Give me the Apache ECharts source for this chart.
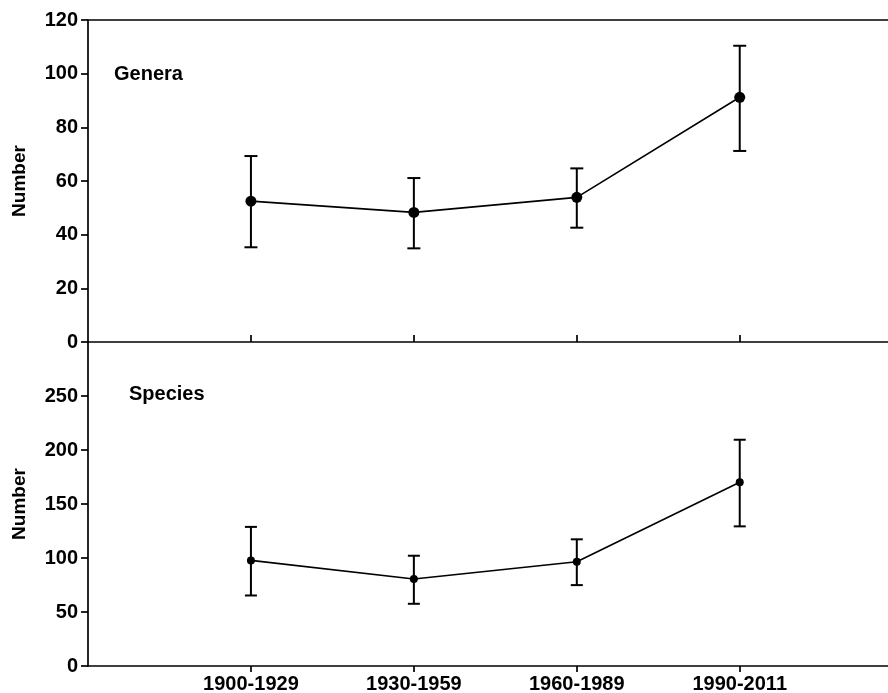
<!DOCTYPE html>
<html>
<head>
<meta charset="utf-8">
<script src="https://cdn.jsdelivr.net/npm/echarts@6/dist/echarts.min.js"></script>
<style>
html,body{margin:0;padding:0;background:#fff;}
#chart{width:888px;height:693px;}
</style>
</head>
<body>
<div id="chart"></div>
<script>
// Data
var periods = ['1900-1929', '1930-1959', '1960-1989', '1990-2011'];
var generaMean = [52.5, 48.3, 53.9, 91.2];
var generaUpper = [69.3, 61.1, 64.7, 110.4];
var generaLower = [35.3, 34.9, 42.6, 71.2];
var speciesMean = [97.8, 80.5, 96.6, 170.2];
var speciesUpper = [128.8, 102.1, 117.3, 209.5];
var speciesLower = [65.3, 57.6, 74.9, 129.3];
var generaTicks = [0, 20, 40, 60, 80, 100, 120];
var speciesTicks = [0, 50, 100, 150, 200, 250];
var periodPos = [1, 2, 3, 4];

var FONT = 'Liberation Sans, Arial, sans-serif';
var chart = echarts.init(document.getElementById('chart'), null, {renderer: 'canvas'});

function pts(mean) { return mean.map(function (v, i) { return [periodPos[i], v]; }); }
function errData(up, lo) { return up.map(function (u, i) { return [periodPos[i], u, lo[i]]; }); }
function errRender(cap) {
  return function (params, api) {
    var x = api.value(0);
    var hi = api.coord([x, api.value(1)]);
    var lo = api.coord([x, api.value(2)]);
    var st = {stroke: '#000', lineWidth: 2};
    return {
      type: 'group',
      children: [
        {type: 'line', shape: {x1: hi[0], y1: hi[1], x2: lo[0], y2: lo[1]}, style: st},
        {type: 'line', shape: {x1: hi[0] - cap, y1: hi[1], x2: hi[0] + cap, y2: hi[1]}, style: st},
        {type: 'line', shape: {x1: lo[0] - cap, y1: lo[1], x2: lo[0] + cap, y2: lo[1]}, style: st}
      ]
    };
  };
}

var axisLabelStyle = {color: '#000', fontFamily: FONT, fontWeight: 'bold', fontSize: 20};
var yNameStyle = {color: '#000', fontFamily: FONT, fontWeight: 'bold', fontSize: 19};
var lineSt = {color: '#000', width: 1.7};

var option = {
  animation: false,
  backgroundColor: '#fff',
  grid: [
    {left: 88, right: 0, top: 20, height: 322, outerBoundsMode: 'none', containLabel: false},
    {left: 88, right: 0, top: 342, height: 324, outerBoundsMode: 'none', containLabel: false}
  ],
  xAxis: [
    {gridIndex: 0, type: 'value', min: 0, max: 4.91, position: 'bottom',
      axisLine: {lineStyle: lineSt},
      axisTick: {inside: true, length: 7, customValues: periodPos, lineStyle: lineSt},
      axisLabel: {show: false}, splitLine: {show: false}},
    {gridIndex: 0, type: 'value', min: 0, max: 4.91, position: 'top',
      axisLine: {show: true, onZero: false, lineStyle: lineSt},
      axisTick: {show: false}, axisLabel: {show: false}, splitLine: {show: false}},
    {gridIndex: 1, type: 'value', min: 0, max: 4.91, position: 'bottom',
      axisLine: {lineStyle: lineSt},
      axisTick: {length: 6, customValues: periodPos, lineStyle: lineSt},
      axisLabel: Object.assign({margin: 8, customValues: periodPos, formatter: function (v) {
        var i = periodPos.indexOf(v); return i >= 0 ? periods[i] : '';
      }}, axisLabelStyle),
      splitLine: {show: false}}
  ],
  yAxis: [
    {gridIndex: 0, type: 'value', min: generaTicks[0], max: generaTicks[generaTicks.length - 1], interval: 20,
      name: 'Number', nameLocation: 'middle', nameGap: 59, nameTextStyle: yNameStyle,
      axisLine: {show: true, lineStyle: lineSt},
      axisTick: {show: true, length: 7, lineStyle: lineSt},
      axisLabel: Object.assign({margin: 10}, axisLabelStyle),
      splitLine: {show: false}},
    {gridIndex: 1, type: 'value', min: speciesTicks[0], max: 300, interval: 50,
      name: 'Number', nameLocation: 'middle', nameGap: 59, nameTextStyle: yNameStyle,
      axisLine: {show: true, lineStyle: lineSt},
      axisTick: {show: true, length: 7, customValues: speciesTicks, lineStyle: lineSt},
      axisLabel: Object.assign({margin: 10, customValues: speciesTicks}, axisLabelStyle),
      splitLine: {show: false}}
  ],
  graphic: [
    {type: 'text', left: 114, top: 64, style: {text: 'Genera', fill: '#000', font: 'bold 20px ' + FONT}},
    {type: 'text', left: 129, top: 384, style: {text: 'Species', fill: '#000', font: 'bold 20px ' + FONT}}
  ],
  series: [
    {type: 'custom', xAxisIndex: 0, yAxisIndex: 0, data: errData(generaUpper, generaLower),
      renderItem: errRender(6.5), encode: {x: 0, y: [1, 2]}, z: 2},
    {type: 'line', xAxisIndex: 0, yAxisIndex: 0, data: pts(generaMean),
      symbol: 'circle', symbolSize: 11, itemStyle: {color: '#000'},
      lineStyle: {color: '#000', width: 1.6}, z: 3},
    {type: 'custom', xAxisIndex: 2, yAxisIndex: 1, data: errData(speciesUpper, speciesLower),
      renderItem: errRender(6), encode: {x: 0, y: [1, 2]}, z: 2},
    {type: 'line', xAxisIndex: 2, yAxisIndex: 1, data: pts(speciesMean),
      symbol: 'circle', symbolSize: 8, itemStyle: {color: '#000'},
      lineStyle: {color: '#000', width: 1.6}, z: 3}
  ]
};
chart.setOption(option);
</script>
</body>
</html>
